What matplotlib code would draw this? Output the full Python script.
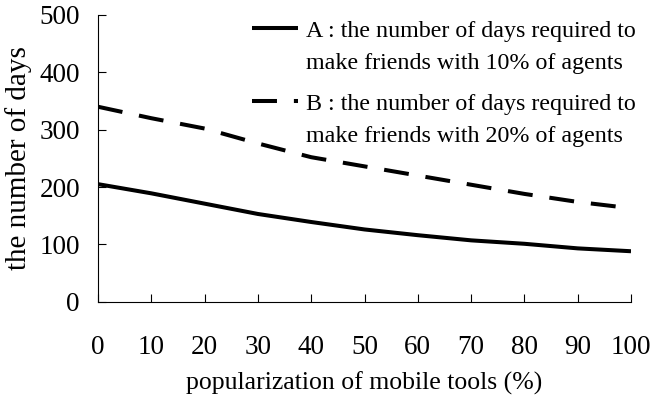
import matplotlib
matplotlib.use("Agg")
import matplotlib.pyplot as plt
from matplotlib.lines import Line2D
from matplotlib.transforms import Bbox, TransformedBbox

# Data
popularization = [0, 10, 20, 30, 40, 50, 60, 70, 80, 90, 100]
days_A = [205, 189, 171, 153, 139, 126, 116, 107, 101, 93, 88]
days_B = [340, 320, 302, 276, 252, 236, 220, 204, 188, 174, 163]
label_A = ["A : the number of days required to", "make friends with 10% of agents"]
label_B = ["B : the number of days required to", "make friends with 20% of agents"]
x_ticks = [0, 10, 20, 30, 40, 50, 60, 70, 80, 90, 100]
y_ticks = [0, 100, 200, 300, 400, 500]

plt.rcParams['font.family'] = ['Liberation Serif', 'DejaVu Serif']
plt.rcParams['mathtext.default'] = 'regular'

W, H = 651, 403
fig = plt.figure(figsize=(W / 100, H / 100), dpi=100)
ax = fig.add_axes([98 / W, 1 - 301.7 / H, (631 - 98) / W, (301.7 - 15) / H])

lw = 2.9
lA, = ax.plot(popularization, days_A, color='black', lw=lw, solid_capstyle='butt')
lB, = ax.plot(popularization, days_B, color='black', lw=lw, dashes=(6.2, 4.2),
              dash_capstyle='butt')

ax.set_xlim(0, 100)
ax.set_ylim(0, 500)
ax.set_xticks(x_ticks)
ax.set_yticks(y_ticks)
for s in ['top', 'right']:
    ax.spines[s].set_visible(False)
for s in ['left', 'bottom']:
    ax.spines[s].set_linewidth(0.8)
    ax.spines[s].set_color('black')
ax.tick_params(axis='x', direction='in', length=6, width=0.8, pad=24, labelsize=19.5)
ax.tick_params(axis='y', direction='in', length=6, width=0.8, pad=13, labelsize=19.5)

ax.set_xlabel("popularization of mobile tools (%)", fontsize=18.5, labelpad=8)
ax.set_ylabel("the number of days", fontsize=21, labelpad=5)
ylab = ax.yaxis.label
ylab.set_clip_box(TransformedBbox(Bbox([[0, 0], [1, 1 - 43 / H]]), fig.transFigure))
ylab.set_clip_on(True)

blank = Line2D([], [], color='none')
leg_kw = dict(frameon=False, fontsize=17.3, handlelength=1.92, handletextpad=0.33,
              labelspacing=0.42, borderpad=0, borderaxespad=0, loc='upper left',
              bbox_transform=fig.transFigure)
hA = Line2D([], [], color='black', lw=lw, solid_capstyle='butt')
hB = Line2D([], [], color='black', lw=lw, dashes=(6.2, 4.2), dash_capstyle='butt')
leg1 = ax.legend([hA, blank], label_A, bbox_to_anchor=(252 / W, 1 - 20 / H), **leg_kw)
ax.add_artist(leg1)
leg2 = ax.legend([hB, blank], label_B, bbox_to_anchor=(252 / W, 1 - 93 / H), **leg_kw)

fig.savefig("out.png", dpi=100)
